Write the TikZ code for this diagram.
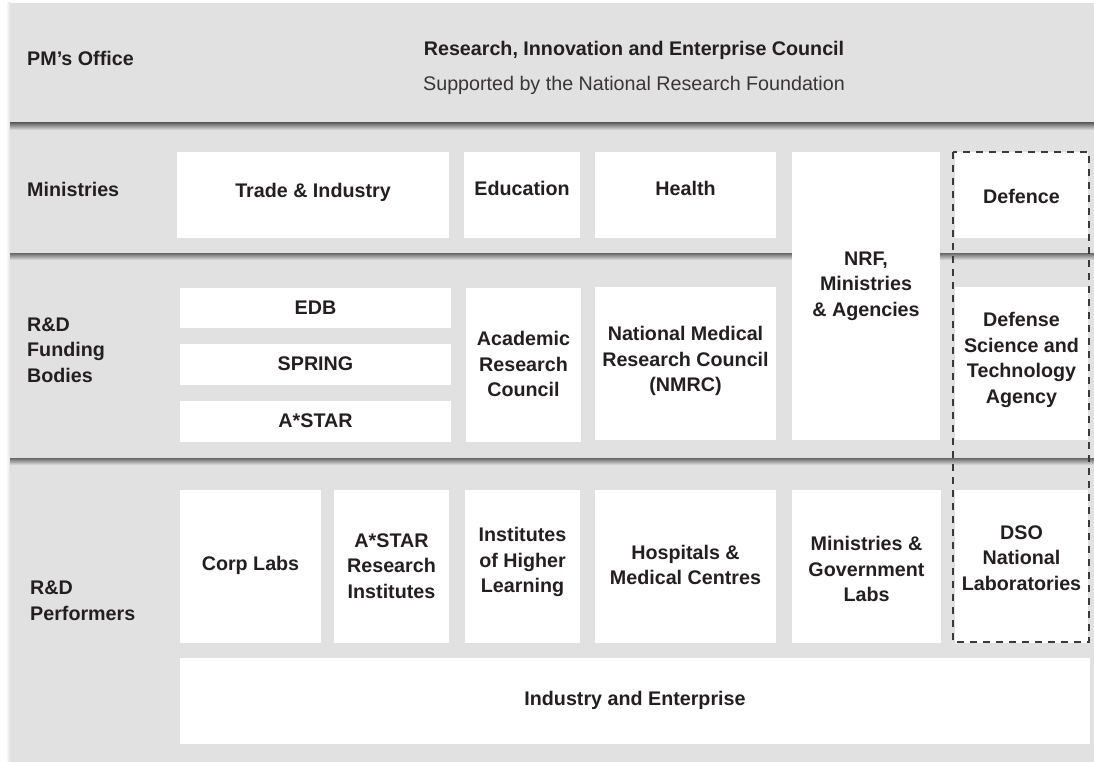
\documentclass[tikz,border=0pt]{standalone}
\usepackage{fontspec}
\setmainfont{Liberation Sans}
\usetikzlibrary{calc}
\definecolor{bandgray}{HTML}{E1E1E1}
\definecolor{txt}{HTML}{231F20}
\definecolor{dashc}{HTML}{3A3A3A}
\newcommand\mycell[7]{%
  \node[cellbox, minimum width={#4-#2}, minimum height={#5-#3}] (#1) at ({(#2+#4)/2},{(#3+#5)/2}) {};
  \node[celltext] (#1t) at ({(#2+#4)/2},#7) {#6};}
\tikzset{
  cellbox/.style={fill=white, draw=none, inner sep=0pt, outer sep=0pt},
  celltext/.style={text=txt, align=center, inner sep=0pt, font=\fontsize{19.7}{25.6}\selectfont\bfseries},
  rowlabel/.style={text=txt, align=left, anchor=west, inner sep=0pt, font=\fontsize{19.7}{25.6}\selectfont\bfseries},
  shadowstrip/.style={top color=black!60, bottom color=bandgray}
}
\begin{document}
\begin{tikzpicture}[x=1pt,y=-1pt]
\useasboundingbox (0,0) rectangle (1094,762);
\fill[white] (0,0) rectangle (1094,762);
% bands
\fill[bandgray] (10,3) rectangle (1094,762);
\shade[left color=white, right color=bandgray] (6,3) rectangle (10,762);
\shade[shadowstrip] (10,123) rectangle (1094,130);
\shade[shadowstrip] (10,253) rectangle (1094,260);
\shade[shadowstrip] (10,458) rectangle (1094,465);
% row labels
\node[rowlabel] (pm) at (27,58) {PM’s Office};
\node[rowlabel] (min) at (27,189) {Ministries};
\node[rowlabel] (fund) at (27,350) {R\&D\\Funding\\Bodies};
\node[rowlabel] (perf) at (30,601) {R\&D\\Performers};
% council
\node[celltext] (riec) at (634,50) {Research, Innovation and Enterprise Council};
\node[celltext, font=\fontsize{19.7}{25.6}\selectfont, text=txt!90] (nrfsup) at (634,85) {Supported by the National Research Foundation};
% ministries
\mycell{trade}{177}{152}{449}{238}{Trade \& Industry}{192}
\mycell{edu}{464}{152}{580}{238}{Education}{188}
\mycell{health}{595}{152}{776}{238}{Health}{188}
\mycell{nrf}{792}{152}{940}{440}{NRF,\\Ministries\\\& Agencies}{286}
\mycell{defence}{955}{152}{1088}{238}{Defence}{196}
% funding bodies
\mycell{edb}{180}{288}{451}{328}{EDB}{308}
\mycell{spring}{180}{344}{451}{385}{SPRING}{364}
\mycell{astar}{180}{401}{451}{442}{A*STAR}{421}
\mycell{arc}{466}{288}{581}{442}{Academic\\Research\\Council}{364}
\mycell{nmrc}{595}{287}{776}{440}{National Medical\\Research Council\\(NMRC)}{361}
\mycell{dsta}{955}{287}{1088}{440}{Defense\\Science and\\Technology\\Agency}{360}
% performers
\mycell{corp}{180}{490}{321}{643}{Corp Labs}{565}
\mycell{astarri}{334}{490}{449}{643}{A*STAR\\Research\\Institutes}{566}
\mycell{ihl}{465}{490}{580}{643}{Institutes\\of Higher\\Learning}{562}
\mycell{hosp}{595}{490}{776}{643}{Hospitals \&\\Medical Centres}{565}
\mycell{mgl}{792}{490}{941}{643}{Ministries \&\\Government\\Labs}{569}
\mycell{dso}{955}{490}{1088}{643}{DSO\\National\\Laboratories}{558}
\mycell{ind}{180}{658}{1090}{744}{Industry and Enterprise}{700}
% defence dashed frame
\draw[dashc, line width=1.8pt, dash pattern=on 7pt off 6pt] (953,152) rectangle (1089,642);
\end{tikzpicture}
\end{document}
